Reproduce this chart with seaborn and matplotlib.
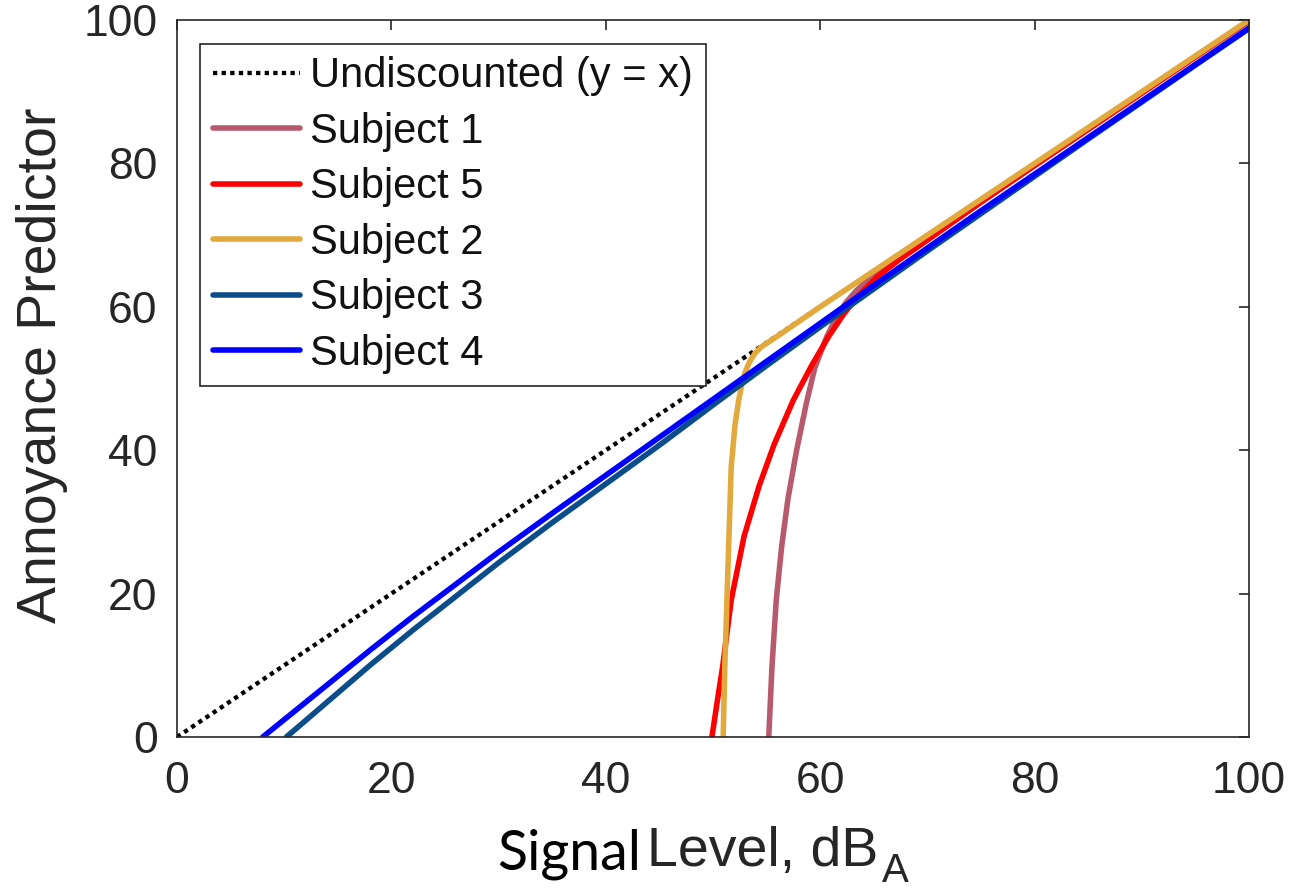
import matplotlib
matplotlib.use("Agg")
import matplotlib.pyplot as plt
import seaborn as sns

# ---- data: signal level (dBA) vs annoyance predictor ----
signal_undiscounted = [0.0, 100.0]
pred_undiscounted = [0.0, 100.0]

signal_s1 = [55.2, 55.5, 55.9, 56.4, 57.0, 57.8, 58.7, 59.5, 60.6, 61.5, 62.4, 63.4,
             64.5, 66.0, 68.0, 70.0, 75.0, 80.0, 90.0, 100.0]
pred_s1 = [0.0, 9.8, 19.1, 26.5, 33.3, 40.0, 46.5, 51.5, 55.8, 58.5, 60.6, 62.3,
           63.8, 65.5, 67.5, 69.4, 74.6, 79.7, 89.8, 99.9]

signal_s5 = [49.9, 50.4, 50.9, 51.7, 52.9, 54.3, 55.7, 57.5, 59.2, 60.8, 62.2, 63.6,
             65.4, 67.4, 70.0, 75.0, 80.0, 90.0, 100.0]
pred_s5 = [0.0, 5.0, 9.8, 19.1, 28.0, 35.0, 40.8, 47.0, 51.8, 55.9, 59.0, 61.6,
           64.3, 66.6, 69.3, 74.6, 79.7, 89.8, 99.9]

signal_s2 = [50.95, 51.1, 51.4, 51.7, 52.05, 52.4, 52.7, 53.0, 53.4, 53.9, 54.5, 55.2,
             56.2, 60.0, 70.0, 80.0, 90.0, 100.0]
pred_s2 = [0.0, 9.8, 23.8, 37.7, 43.5, 47.0, 49.2, 50.9, 52.3, 53.5, 54.4, 55.1,
           56.1, 60.0, 70.0, 80.0, 90.0, 100.0]

signal_s3 = [10.2, 12.0, 15.0, 18.0, 22.0, 26.0, 30.0, 35.0, 40.0, 45.0, 50.0, 55.0,
             60.0, 65.0, 70.0, 75.0, 80.0, 85.0, 90.0, 95.0, 100.0]
pred_s3 = [0.0, 2.3, 6.15, 10.0, 14.9, 19.6, 24.3, 29.9, 35.3, 40.7, 46.3, 51.8,
           57.2, 62.5, 67.8, 73.0, 78.2, 83.4, 88.55, 93.7, 98.8]

signal_s4 = [8.0, 10.0, 12.0, 15.0, 18.0, 22.0, 26.0, 30.0, 35.0, 40.0, 45.0, 50.0,
             55.0, 60.0, 65.0, 70.0, 75.0, 80.0, 85.0, 90.0, 95.0, 100.0]
pred_s4 = [0.0, 2.42, 4.84, 8.47, 12.1, 16.8, 21.3, 25.8, 31.2, 36.5, 41.8, 47.1,
           52.4, 57.7, 63.0, 68.2, 73.4, 78.5, 83.6, 88.7, 93.8, 98.9]

ticks = [0, 20, 40, 60, 80, 100]

series = [
    ("Subject 1", signal_s1, pred_s1, "#B85A6E"),
    ("Subject 5", signal_s5, pred_s5, "#FF0000"),
    ("Subject 2", signal_s2, pred_s2, "#E2AA3C"),
    ("Subject 3", signal_s3, pred_s3, "#0B4D8A"),
    ("Subject 4", signal_s4, pred_s4, "#0000FF"),
]

sns.set_style("white")
sans = ["Liberation Sans", "DejaVu Sans"]
plt.rcParams["font.family"] = sans

W, H = 1294, 891
fig = plt.figure(figsize=(W / 100, H / 100), dpi=100)
ax = fig.add_axes([177 / W, 1 - 737 / H, 1072 / W, 717 / H])

ink = "#262626"

sns.lineplot(x=signal_undiscounted, y=pred_undiscounted, ax=ax, color="black",
             lw=3.1, ls=(0, (1, 1)), dash_capstyle="butt", sort=False,
             estimator=None, label="Undiscounted (y = x)")
for name, xs, ys, col in series:
    sns.lineplot(x=xs, y=ys, ax=ax, color=col, lw=4, sort=False,
                 estimator=None, label=name)

ax.set_xlim(0, 100)
ax.set_ylim(0, 100)
ax.set_xticks(ticks)
ax.set_yticks(ticks)
ax.set_xlabel("")
ax.set_ylabel("")
ax.tick_params(direction="in", length=7, width=1.2, top=True, right=True,
               labelsize=32, colors=ink)
ax.tick_params(axis="x", pad=17)
ax.tick_params(axis="y", pad=14)
for sp in ax.spines.values():
    sp.set_visible(True)
    sp.set_color(ink)
    sp.set_linewidth(1.2)

leg = ax.legend(loc="upper left", bbox_to_anchor=(23 / 1072, 1 - 24 / 717),
                borderaxespad=0, fontsize=30, frameon=True, fancybox=False,
                framealpha=1, edgecolor=ink, handlelength=2.1,
                handletextpad=0.25, labelspacing=0.37, borderpad=0.3)
leg.get_frame().set_linewidth(1.2)
for t in leg.get_texts():
    t.set_color("#111111")

# y axis title
fig.text(42 / W, 1 - 365 / H, "Annoyance Predictor", rotation=90, ha="center",
         va="center", fontsize=40, color=ink, family=sans)

# x axis title: two pieces plus the subscript
fig.text(497 / W, 1 - 870 / H, "Signal", fontsize=40, color="black",
         family=["Lato", "DejaVu Sans"], va="baseline", ha="left")
fig.text(647 / W, 1 - 866 / H, "Level, dB", fontsize=40, color=ink,
         family=sans, va="baseline", ha="left")
fig.text(882 / W, 1 - 882 / H, "A", fontsize=29, color=ink,
         family=sans, va="baseline", ha="left")

fig.savefig("out.png", dpi=100)
